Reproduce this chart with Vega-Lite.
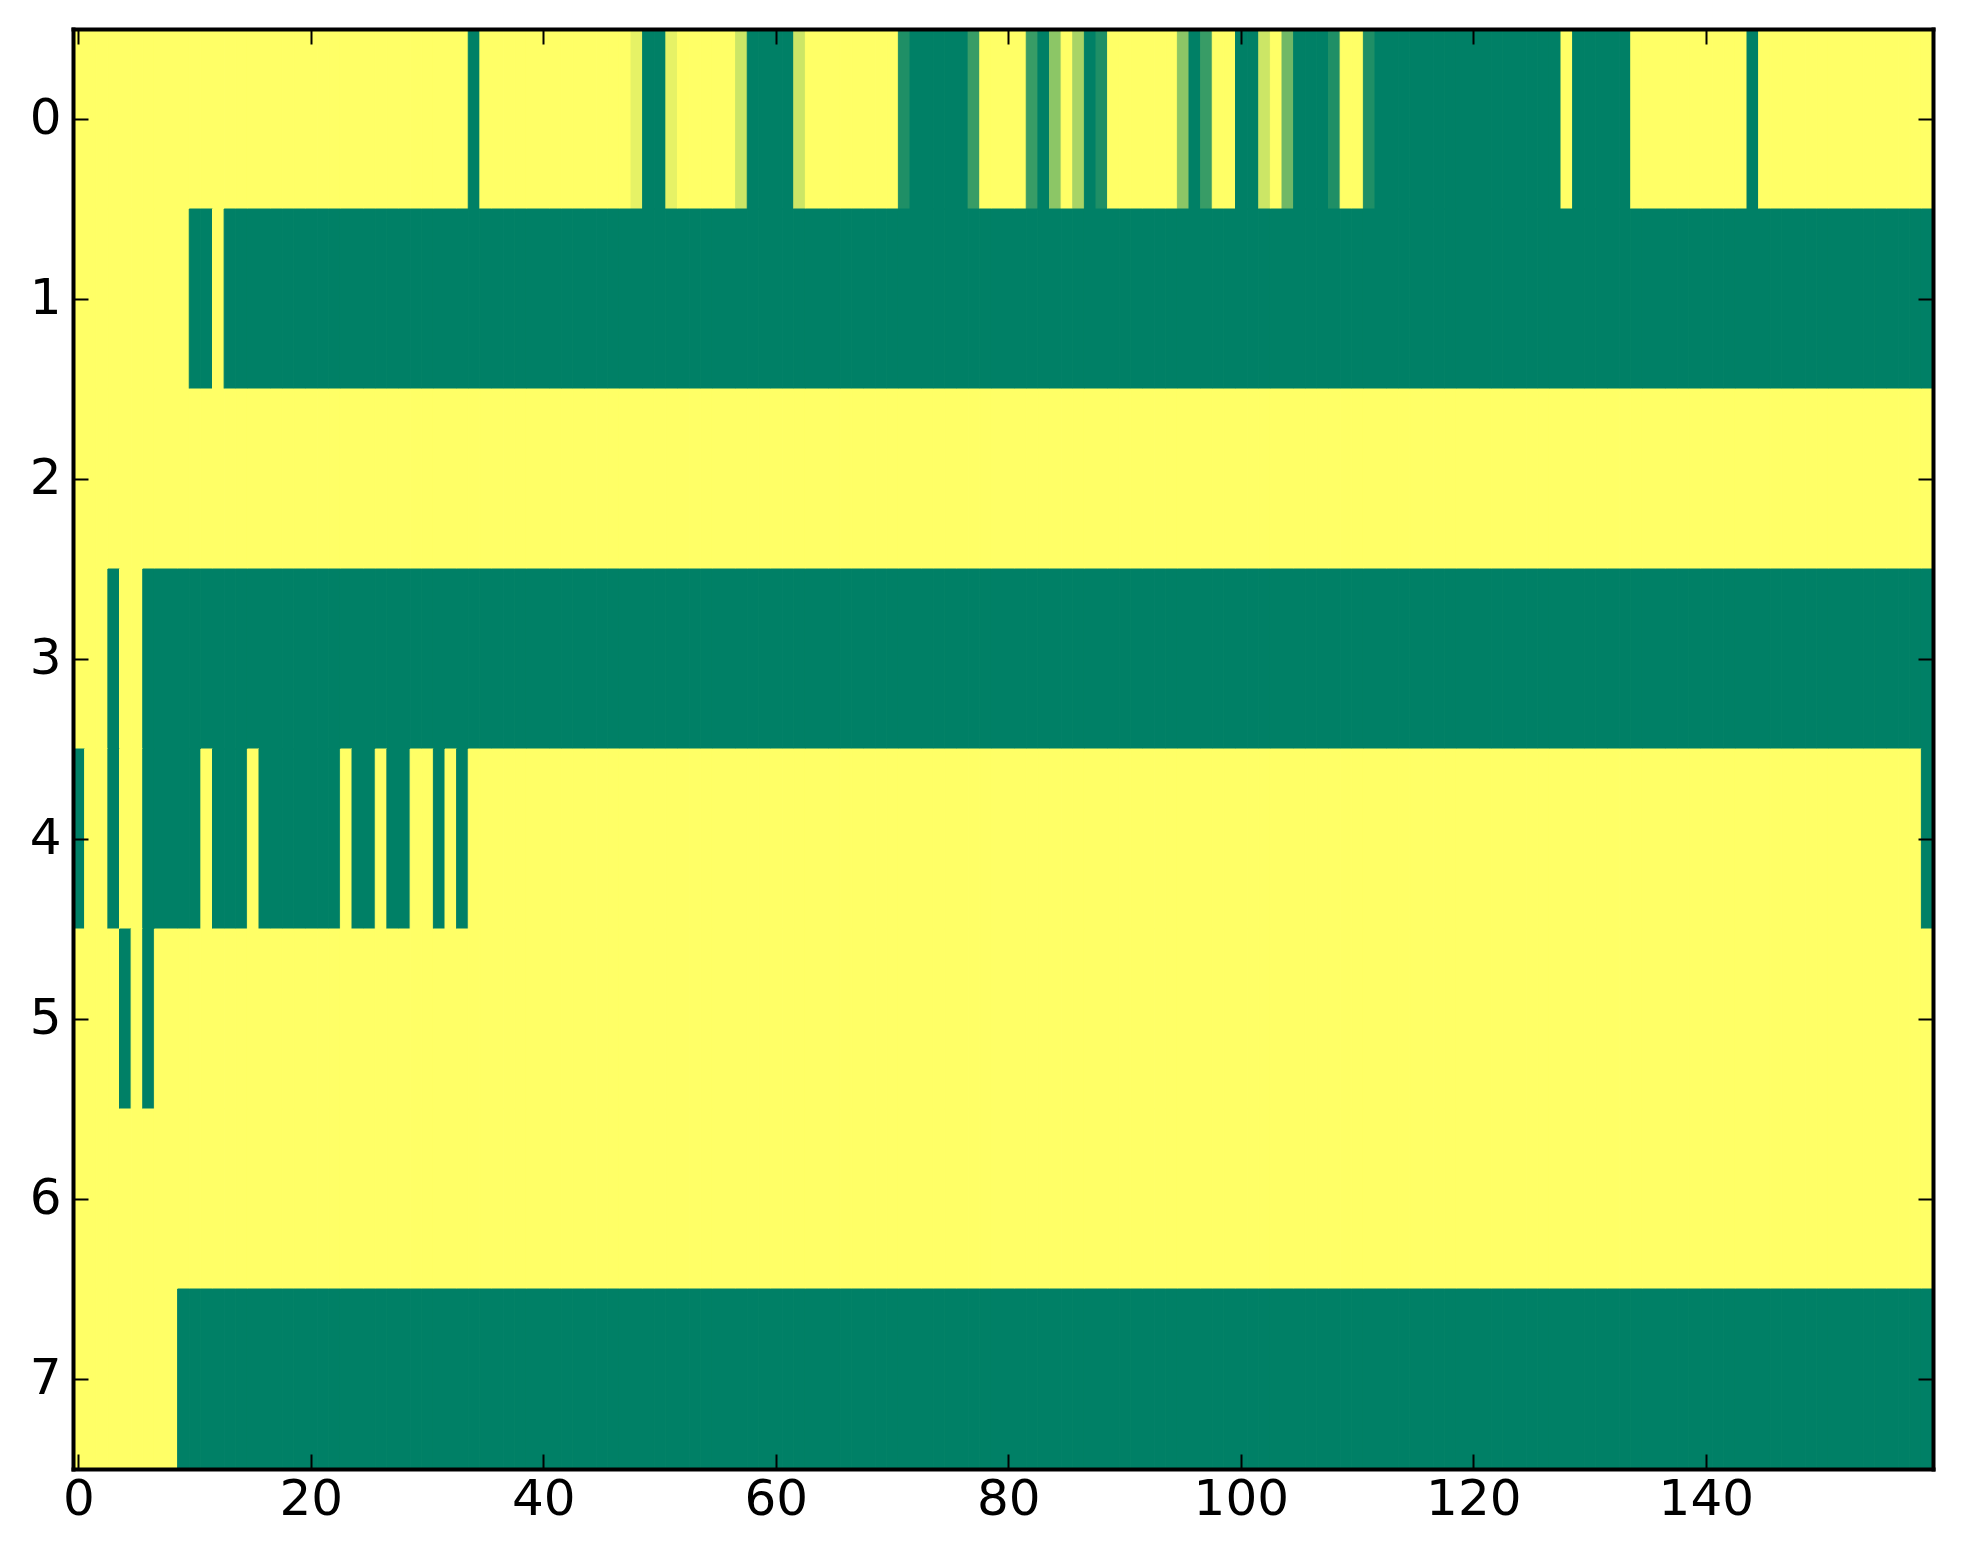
{
"$schema": "https://vega.github.io/schema/vega-lite/v6.json",
"autosize": "none",
"padding": {"left": 73, "top": 29, "right": 30, "bottom": 95},
"width": 1860,
"height": 1440,
"background": "white",
"config": {
  "view": {"stroke": null},
  "axis": {"domain": true, "domainColor": "black", "domainWidth": 4, "domainCap": "square", "grid": false, "labelFont": "DejaVu Sans", "labelFontSize": 50, "labelColor": "black", "tickColor": "black", "tickWidth": 2, "tickSize": -15, "title": null}
},
"data": {"values": [
{"r":0,"c":0,"v":1},{"r":0,"c":1,"v":1},{"r":0,"c":2,"v":1},{"r":0,"c":3,"v":1},{"r":0,"c":4,"v":1},{"r":0,"c":5,"v":1},{"r":0,"c":6,"v":1},{"r":0,"c":7,"v":1},{"r":0,"c":8,"v":1},{"r":0,"c":9,"v":1},
{"r":0,"c":10,"v":1},{"r":0,"c":11,"v":1},{"r":0,"c":12,"v":1},{"r":0,"c":13,"v":1},{"r":0,"c":14,"v":1},{"r":0,"c":15,"v":1},{"r":0,"c":16,"v":1},{"r":0,"c":17,"v":1},{"r":0,"c":18,"v":1},{"r":0,"c":19,"v":1},
{"r":0,"c":20,"v":1},{"r":0,"c":21,"v":1},{"r":0,"c":22,"v":1},{"r":0,"c":23,"v":1},{"r":0,"c":24,"v":1},{"r":0,"c":25,"v":1},{"r":0,"c":26,"v":1},{"r":0,"c":27,"v":1},{"r":0,"c":28,"v":1},{"r":0,"c":29,"v":1},
{"r":0,"c":30,"v":1},{"r":0,"c":31,"v":1},{"r":0,"c":32,"v":1},{"r":0,"c":33,"v":1},{"r":0,"c":34,"v":0},{"r":0,"c":35,"v":1},{"r":0,"c":36,"v":1},{"r":0,"c":37,"v":1},{"r":0,"c":38,"v":1},{"r":0,"c":39,"v":1},
{"r":0,"c":40,"v":1},{"r":0,"c":41,"v":1},{"r":0,"c":42,"v":1},{"r":0,"c":43,"v":1},{"r":0,"c":44,"v":1},{"r":0,"c":45,"v":1},{"r":0,"c":46,"v":1},{"r":0,"c":47,"v":1},{"r":0,"c":48,"v":0.9},{"r":0,"c":49,"v":0},
{"r":0,"c":50,"v":0},{"r":0,"c":51,"v":0.9},{"r":0,"c":52,"v":1},{"r":0,"c":53,"v":1},{"r":0,"c":54,"v":1},{"r":0,"c":55,"v":1},{"r":0,"c":56,"v":1},{"r":0,"c":57,"v":0.8},{"r":0,"c":58,"v":0},{"r":0,"c":59,"v":0},
{"r":0,"c":60,"v":0},{"r":0,"c":61,"v":0},{"r":0,"c":62,"v":0.8},{"r":0,"c":63,"v":1},{"r":0,"c":64,"v":1},{"r":0,"c":65,"v":1},{"r":0,"c":66,"v":1},{"r":0,"c":67,"v":1},{"r":0,"c":68,"v":1},{"r":0,"c":69,"v":1},
{"r":0,"c":70,"v":1},{"r":0,"c":71,"v":0.12},{"r":0,"c":72,"v":0},{"r":0,"c":73,"v":0},{"r":0,"c":74,"v":0},{"r":0,"c":75,"v":0},{"r":0,"c":76,"v":0},{"r":0,"c":77,"v":0.22},{"r":0,"c":78,"v":1},{"r":0,"c":79,"v":1},
{"r":0,"c":80,"v":1},{"r":0,"c":81,"v":1},{"r":0,"c":82,"v":0.22},{"r":0,"c":83,"v":0},{"r":0,"c":84,"v":0.55},{"r":0,"c":85,"v":1},{"r":0,"c":86,"v":0.66},{"r":0,"c":87,"v":0},{"r":0,"c":88,"v":0.12},{"r":0,"c":89,"v":1},
{"r":0,"c":90,"v":1},{"r":0,"c":91,"v":1},{"r":0,"c":92,"v":1},{"r":0,"c":93,"v":1},{"r":0,"c":94,"v":1},{"r":0,"c":95,"v":0.55},{"r":0,"c":96,"v":0},{"r":0,"c":97,"v":0.22},{"r":0,"c":98,"v":1},{"r":0,"c":99,"v":1},
{"r":0,"c":100,"v":0},{"r":0,"c":101,"v":0},{"r":0,"c":102,"v":0.8},{"r":0,"c":103,"v":1},{"r":0,"c":104,"v":0.44},{"r":0,"c":105,"v":0},{"r":0,"c":106,"v":0},{"r":0,"c":107,"v":0},{"r":0,"c":108,"v":0.12},{"r":0,"c":109,"v":1},
{"r":0,"c":110,"v":1},{"r":0,"c":111,"v":0.12},{"r":0,"c":112,"v":0},{"r":0,"c":113,"v":0},{"r":0,"c":114,"v":0},{"r":0,"c":115,"v":0},{"r":0,"c":116,"v":0},{"r":0,"c":117,"v":0},{"r":0,"c":118,"v":0},{"r":0,"c":119,"v":0},
{"r":0,"c":120,"v":0},{"r":0,"c":121,"v":0},{"r":0,"c":122,"v":0},{"r":0,"c":123,"v":0},{"r":0,"c":124,"v":0},{"r":0,"c":125,"v":0},{"r":0,"c":126,"v":0},{"r":0,"c":127,"v":0},{"r":0,"c":128,"v":1},{"r":0,"c":129,"v":0},
{"r":0,"c":130,"v":0},{"r":0,"c":131,"v":0},{"r":0,"c":132,"v":0},{"r":0,"c":133,"v":0},{"r":0,"c":134,"v":1},{"r":0,"c":135,"v":1},{"r":0,"c":136,"v":1},{"r":0,"c":137,"v":1},{"r":0,"c":138,"v":1},{"r":0,"c":139,"v":1},
{"r":0,"c":140,"v":1},{"r":0,"c":141,"v":1},{"r":0,"c":142,"v":1},{"r":0,"c":143,"v":1},{"r":0,"c":144,"v":0},{"r":0,"c":145,"v":1},{"r":0,"c":146,"v":1},{"r":0,"c":147,"v":1},{"r":0,"c":148,"v":1},{"r":0,"c":149,"v":1},
{"r":0,"c":150,"v":1},{"r":0,"c":151,"v":1},{"r":0,"c":152,"v":1},{"r":0,"c":153,"v":1},{"r":0,"c":154,"v":1},{"r":0,"c":155,"v":1},{"r":0,"c":156,"v":1},{"r":0,"c":157,"v":1},{"r":0,"c":158,"v":1},{"r":0,"c":159,"v":1},

{"r":1,"c":0,"v":1},{"r":1,"c":1,"v":1},{"r":1,"c":2,"v":1},{"r":1,"c":3,"v":1},{"r":1,"c":4,"v":1},{"r":1,"c":5,"v":1},{"r":1,"c":6,"v":1},{"r":1,"c":7,"v":1},{"r":1,"c":8,"v":1},{"r":1,"c":9,"v":1},
{"r":1,"c":10,"v":0},{"r":1,"c":11,"v":0},{"r":1,"c":12,"v":1},{"r":1,"c":13,"v":0},{"r":1,"c":14,"v":0},{"r":1,"c":15,"v":0},{"r":1,"c":16,"v":0},{"r":1,"c":17,"v":0},{"r":1,"c":18,"v":0},{"r":1,"c":19,"v":0},
{"r":1,"c":20,"v":0},{"r":1,"c":21,"v":0},{"r":1,"c":22,"v":0},{"r":1,"c":23,"v":0},{"r":1,"c":24,"v":0},{"r":1,"c":25,"v":0},{"r":1,"c":26,"v":0},{"r":1,"c":27,"v":0},{"r":1,"c":28,"v":0},{"r":1,"c":29,"v":0},
{"r":1,"c":30,"v":0},{"r":1,"c":31,"v":0},{"r":1,"c":32,"v":0},{"r":1,"c":33,"v":0},{"r":1,"c":34,"v":0},{"r":1,"c":35,"v":0},{"r":1,"c":36,"v":0},{"r":1,"c":37,"v":0},{"r":1,"c":38,"v":0},{"r":1,"c":39,"v":0},
{"r":1,"c":40,"v":0},{"r":1,"c":41,"v":0},{"r":1,"c":42,"v":0},{"r":1,"c":43,"v":0},{"r":1,"c":44,"v":0},{"r":1,"c":45,"v":0},{"r":1,"c":46,"v":0},{"r":1,"c":47,"v":0},{"r":1,"c":48,"v":0},{"r":1,"c":49,"v":0},
{"r":1,"c":50,"v":0},{"r":1,"c":51,"v":0},{"r":1,"c":52,"v":0},{"r":1,"c":53,"v":0},{"r":1,"c":54,"v":0},{"r":1,"c":55,"v":0},{"r":1,"c":56,"v":0},{"r":1,"c":57,"v":0},{"r":1,"c":58,"v":0},{"r":1,"c":59,"v":0},
{"r":1,"c":60,"v":0},{"r":1,"c":61,"v":0},{"r":1,"c":62,"v":0},{"r":1,"c":63,"v":0},{"r":1,"c":64,"v":0},{"r":1,"c":65,"v":0},{"r":1,"c":66,"v":0},{"r":1,"c":67,"v":0},{"r":1,"c":68,"v":0},{"r":1,"c":69,"v":0},
{"r":1,"c":70,"v":0},{"r":1,"c":71,"v":0},{"r":1,"c":72,"v":0},{"r":1,"c":73,"v":0},{"r":1,"c":74,"v":0},{"r":1,"c":75,"v":0},{"r":1,"c":76,"v":0},{"r":1,"c":77,"v":0},{"r":1,"c":78,"v":0},{"r":1,"c":79,"v":0},
{"r":1,"c":80,"v":0},{"r":1,"c":81,"v":0},{"r":1,"c":82,"v":0},{"r":1,"c":83,"v":0},{"r":1,"c":84,"v":0},{"r":1,"c":85,"v":0},{"r":1,"c":86,"v":0},{"r":1,"c":87,"v":0},{"r":1,"c":88,"v":0},{"r":1,"c":89,"v":0},
{"r":1,"c":90,"v":0},{"r":1,"c":91,"v":0},{"r":1,"c":92,"v":0},{"r":1,"c":93,"v":0},{"r":1,"c":94,"v":0},{"r":1,"c":95,"v":0},{"r":1,"c":96,"v":0},{"r":1,"c":97,"v":0},{"r":1,"c":98,"v":0},{"r":1,"c":99,"v":0},
{"r":1,"c":100,"v":0},{"r":1,"c":101,"v":0},{"r":1,"c":102,"v":0},{"r":1,"c":103,"v":0},{"r":1,"c":104,"v":0},{"r":1,"c":105,"v":0},{"r":1,"c":106,"v":0},{"r":1,"c":107,"v":0},{"r":1,"c":108,"v":0},{"r":1,"c":109,"v":0},
{"r":1,"c":110,"v":0},{"r":1,"c":111,"v":0},{"r":1,"c":112,"v":0},{"r":1,"c":113,"v":0},{"r":1,"c":114,"v":0},{"r":1,"c":115,"v":0},{"r":1,"c":116,"v":0},{"r":1,"c":117,"v":0},{"r":1,"c":118,"v":0},{"r":1,"c":119,"v":0},
{"r":1,"c":120,"v":0},{"r":1,"c":121,"v":0},{"r":1,"c":122,"v":0},{"r":1,"c":123,"v":0},{"r":1,"c":124,"v":0},{"r":1,"c":125,"v":0},{"r":1,"c":126,"v":0},{"r":1,"c":127,"v":0},{"r":1,"c":128,"v":0},{"r":1,"c":129,"v":0},
{"r":1,"c":130,"v":0},{"r":1,"c":131,"v":0},{"r":1,"c":132,"v":0},{"r":1,"c":133,"v":0},{"r":1,"c":134,"v":0},{"r":1,"c":135,"v":0},{"r":1,"c":136,"v":0},{"r":1,"c":137,"v":0},{"r":1,"c":138,"v":0},{"r":1,"c":139,"v":0},
{"r":1,"c":140,"v":0},{"r":1,"c":141,"v":0},{"r":1,"c":142,"v":0},{"r":1,"c":143,"v":0},{"r":1,"c":144,"v":0},{"r":1,"c":145,"v":0},{"r":1,"c":146,"v":0},{"r":1,"c":147,"v":0},{"r":1,"c":148,"v":0},{"r":1,"c":149,"v":0},
{"r":1,"c":150,"v":0},{"r":1,"c":151,"v":0},{"r":1,"c":152,"v":0},{"r":1,"c":153,"v":0},{"r":1,"c":154,"v":0},{"r":1,"c":155,"v":0},{"r":1,"c":156,"v":0},{"r":1,"c":157,"v":0},{"r":1,"c":158,"v":0},{"r":1,"c":159,"v":0},

{"r":2,"c":0,"v":1},{"r":2,"c":1,"v":1},{"r":2,"c":2,"v":1},{"r":2,"c":3,"v":1},{"r":2,"c":4,"v":1},{"r":2,"c":5,"v":1},{"r":2,"c":6,"v":1},{"r":2,"c":7,"v":1},{"r":2,"c":8,"v":1},{"r":2,"c":9,"v":1},
{"r":2,"c":10,"v":1},{"r":2,"c":11,"v":1},{"r":2,"c":12,"v":1},{"r":2,"c":13,"v":1},{"r":2,"c":14,"v":1},{"r":2,"c":15,"v":1},{"r":2,"c":16,"v":1},{"r":2,"c":17,"v":1},{"r":2,"c":18,"v":1},{"r":2,"c":19,"v":1},
{"r":2,"c":20,"v":1},{"r":2,"c":21,"v":1},{"r":2,"c":22,"v":1},{"r":2,"c":23,"v":1},{"r":2,"c":24,"v":1},{"r":2,"c":25,"v":1},{"r":2,"c":26,"v":1},{"r":2,"c":27,"v":1},{"r":2,"c":28,"v":1},{"r":2,"c":29,"v":1},
{"r":2,"c":30,"v":1},{"r":2,"c":31,"v":1},{"r":2,"c":32,"v":1},{"r":2,"c":33,"v":1},{"r":2,"c":34,"v":1},{"r":2,"c":35,"v":1},{"r":2,"c":36,"v":1},{"r":2,"c":37,"v":1},{"r":2,"c":38,"v":1},{"r":2,"c":39,"v":1},
{"r":2,"c":40,"v":1},{"r":2,"c":41,"v":1},{"r":2,"c":42,"v":1},{"r":2,"c":43,"v":1},{"r":2,"c":44,"v":1},{"r":2,"c":45,"v":1},{"r":2,"c":46,"v":1},{"r":2,"c":47,"v":1},{"r":2,"c":48,"v":1},{"r":2,"c":49,"v":1},
{"r":2,"c":50,"v":1},{"r":2,"c":51,"v":1},{"r":2,"c":52,"v":1},{"r":2,"c":53,"v":1},{"r":2,"c":54,"v":1},{"r":2,"c":55,"v":1},{"r":2,"c":56,"v":1},{"r":2,"c":57,"v":1},{"r":2,"c":58,"v":1},{"r":2,"c":59,"v":1},
{"r":2,"c":60,"v":1},{"r":2,"c":61,"v":1},{"r":2,"c":62,"v":1},{"r":2,"c":63,"v":1},{"r":2,"c":64,"v":1},{"r":2,"c":65,"v":1},{"r":2,"c":66,"v":1},{"r":2,"c":67,"v":1},{"r":2,"c":68,"v":1},{"r":2,"c":69,"v":1},
{"r":2,"c":70,"v":1},{"r":2,"c":71,"v":1},{"r":2,"c":72,"v":1},{"r":2,"c":73,"v":1},{"r":2,"c":74,"v":1},{"r":2,"c":75,"v":1},{"r":2,"c":76,"v":1},{"r":2,"c":77,"v":1},{"r":2,"c":78,"v":1},{"r":2,"c":79,"v":1},
{"r":2,"c":80,"v":1},{"r":2,"c":81,"v":1},{"r":2,"c":82,"v":1},{"r":2,"c":83,"v":1},{"r":2,"c":84,"v":1},{"r":2,"c":85,"v":1},{"r":2,"c":86,"v":1},{"r":2,"c":87,"v":1},{"r":2,"c":88,"v":1},{"r":2,"c":89,"v":1},
{"r":2,"c":90,"v":1},{"r":2,"c":91,"v":1},{"r":2,"c":92,"v":1},{"r":2,"c":93,"v":1},{"r":2,"c":94,"v":1},{"r":2,"c":95,"v":1},{"r":2,"c":96,"v":1},{"r":2,"c":97,"v":1},{"r":2,"c":98,"v":1},{"r":2,"c":99,"v":1},
{"r":2,"c":100,"v":1},{"r":2,"c":101,"v":1},{"r":2,"c":102,"v":1},{"r":2,"c":103,"v":1},{"r":2,"c":104,"v":1},{"r":2,"c":105,"v":1},{"r":2,"c":106,"v":1},{"r":2,"c":107,"v":1},{"r":2,"c":108,"v":1},{"r":2,"c":109,"v":1},
{"r":2,"c":110,"v":1},{"r":2,"c":111,"v":1},{"r":2,"c":112,"v":1},{"r":2,"c":113,"v":1},{"r":2,"c":114,"v":1},{"r":2,"c":115,"v":1},{"r":2,"c":116,"v":1},{"r":2,"c":117,"v":1},{"r":2,"c":118,"v":1},{"r":2,"c":119,"v":1},
{"r":2,"c":120,"v":1},{"r":2,"c":121,"v":1},{"r":2,"c":122,"v":1},{"r":2,"c":123,"v":1},{"r":2,"c":124,"v":1},{"r":2,"c":125,"v":1},{"r":2,"c":126,"v":1},{"r":2,"c":127,"v":1},{"r":2,"c":128,"v":1},{"r":2,"c":129,"v":1},
{"r":2,"c":130,"v":1},{"r":2,"c":131,"v":1},{"r":2,"c":132,"v":1},{"r":2,"c":133,"v":1},{"r":2,"c":134,"v":1},{"r":2,"c":135,"v":1},{"r":2,"c":136,"v":1},{"r":2,"c":137,"v":1},{"r":2,"c":138,"v":1},{"r":2,"c":139,"v":1},
{"r":2,"c":140,"v":1},{"r":2,"c":141,"v":1},{"r":2,"c":142,"v":1},{"r":2,"c":143,"v":1},{"r":2,"c":144,"v":1},{"r":2,"c":145,"v":1},{"r":2,"c":146,"v":1},{"r":2,"c":147,"v":1},{"r":2,"c":148,"v":1},{"r":2,"c":149,"v":1},
{"r":2,"c":150,"v":1},{"r":2,"c":151,"v":1},{"r":2,"c":152,"v":1},{"r":2,"c":153,"v":1},{"r":2,"c":154,"v":1},{"r":2,"c":155,"v":1},{"r":2,"c":156,"v":1},{"r":2,"c":157,"v":1},{"r":2,"c":158,"v":1},{"r":2,"c":159,"v":1},

{"r":3,"c":0,"v":1},{"r":3,"c":1,"v":1},{"r":3,"c":2,"v":1},{"r":3,"c":3,"v":0},{"r":3,"c":4,"v":1},{"r":3,"c":5,"v":1},{"r":3,"c":6,"v":0},{"r":3,"c":7,"v":0},{"r":3,"c":8,"v":0},{"r":3,"c":9,"v":0},
{"r":3,"c":10,"v":0},{"r":3,"c":11,"v":0},{"r":3,"c":12,"v":0},{"r":3,"c":13,"v":0},{"r":3,"c":14,"v":0},{"r":3,"c":15,"v":0},{"r":3,"c":16,"v":0},{"r":3,"c":17,"v":0},{"r":3,"c":18,"v":0},{"r":3,"c":19,"v":0},
{"r":3,"c":20,"v":0},{"r":3,"c":21,"v":0},{"r":3,"c":22,"v":0},{"r":3,"c":23,"v":0},{"r":3,"c":24,"v":0},{"r":3,"c":25,"v":0},{"r":3,"c":26,"v":0},{"r":3,"c":27,"v":0},{"r":3,"c":28,"v":0},{"r":3,"c":29,"v":0},
{"r":3,"c":30,"v":0},{"r":3,"c":31,"v":0},{"r":3,"c":32,"v":0},{"r":3,"c":33,"v":0},{"r":3,"c":34,"v":0},{"r":3,"c":35,"v":0},{"r":3,"c":36,"v":0},{"r":3,"c":37,"v":0},{"r":3,"c":38,"v":0},{"r":3,"c":39,"v":0},
{"r":3,"c":40,"v":0},{"r":3,"c":41,"v":0},{"r":3,"c":42,"v":0},{"r":3,"c":43,"v":0},{"r":3,"c":44,"v":0},{"r":3,"c":45,"v":0},{"r":3,"c":46,"v":0},{"r":3,"c":47,"v":0},{"r":3,"c":48,"v":0},{"r":3,"c":49,"v":0},
{"r":3,"c":50,"v":0},{"r":3,"c":51,"v":0},{"r":3,"c":52,"v":0},{"r":3,"c":53,"v":0},{"r":3,"c":54,"v":0},{"r":3,"c":55,"v":0},{"r":3,"c":56,"v":0},{"r":3,"c":57,"v":0},{"r":3,"c":58,"v":0},{"r":3,"c":59,"v":0},
{"r":3,"c":60,"v":0},{"r":3,"c":61,"v":0},{"r":3,"c":62,"v":0},{"r":3,"c":63,"v":0},{"r":3,"c":64,"v":0},{"r":3,"c":65,"v":0},{"r":3,"c":66,"v":0},{"r":3,"c":67,"v":0},{"r":3,"c":68,"v":0},{"r":3,"c":69,"v":0},
{"r":3,"c":70,"v":0},{"r":3,"c":71,"v":0},{"r":3,"c":72,"v":0},{"r":3,"c":73,"v":0},{"r":3,"c":74,"v":0},{"r":3,"c":75,"v":0},{"r":3,"c":76,"v":0},{"r":3,"c":77,"v":0},{"r":3,"c":78,"v":0},{"r":3,"c":79,"v":0},
{"r":3,"c":80,"v":0},{"r":3,"c":81,"v":0},{"r":3,"c":82,"v":0},{"r":3,"c":83,"v":0},{"r":3,"c":84,"v":0},{"r":3,"c":85,"v":0},{"r":3,"c":86,"v":0},{"r":3,"c":87,"v":0},{"r":3,"c":88,"v":0},{"r":3,"c":89,"v":0},
{"r":3,"c":90,"v":0},{"r":3,"c":91,"v":0},{"r":3,"c":92,"v":0},{"r":3,"c":93,"v":0},{"r":3,"c":94,"v":0},{"r":3,"c":95,"v":0},{"r":3,"c":96,"v":0},{"r":3,"c":97,"v":0},{"r":3,"c":98,"v":0},{"r":3,"c":99,"v":0},
{"r":3,"c":100,"v":0},{"r":3,"c":101,"v":0},{"r":3,"c":102,"v":0},{"r":3,"c":103,"v":0},{"r":3,"c":104,"v":0},{"r":3,"c":105,"v":0},{"r":3,"c":106,"v":0},{"r":3,"c":107,"v":0},{"r":3,"c":108,"v":0},{"r":3,"c":109,"v":0},
{"r":3,"c":110,"v":0},{"r":3,"c":111,"v":0},{"r":3,"c":112,"v":0},{"r":3,"c":113,"v":0},{"r":3,"c":114,"v":0},{"r":3,"c":115,"v":0},{"r":3,"c":116,"v":0},{"r":3,"c":117,"v":0},{"r":3,"c":118,"v":0},{"r":3,"c":119,"v":0},
{"r":3,"c":120,"v":0},{"r":3,"c":121,"v":0},{"r":3,"c":122,"v":0},{"r":3,"c":123,"v":0},{"r":3,"c":124,"v":0},{"r":3,"c":125,"v":0},{"r":3,"c":126,"v":0},{"r":3,"c":127,"v":0},{"r":3,"c":128,"v":0},{"r":3,"c":129,"v":0},
{"r":3,"c":130,"v":0},{"r":3,"c":131,"v":0},{"r":3,"c":132,"v":0},{"r":3,"c":133,"v":0},{"r":3,"c":134,"v":0},{"r":3,"c":135,"v":0},{"r":3,"c":136,"v":0},{"r":3,"c":137,"v":0},{"r":3,"c":138,"v":0},{"r":3,"c":139,"v":0},
{"r":3,"c":140,"v":0},{"r":3,"c":141,"v":0},{"r":3,"c":142,"v":0},{"r":3,"c":143,"v":0},{"r":3,"c":144,"v":0},{"r":3,"c":145,"v":0},{"r":3,"c":146,"v":0},{"r":3,"c":147,"v":0},{"r":3,"c":148,"v":0},{"r":3,"c":149,"v":0},
{"r":3,"c":150,"v":0},{"r":3,"c":151,"v":0},{"r":3,"c":152,"v":0},{"r":3,"c":153,"v":0},{"r":3,"c":154,"v":0},{"r":3,"c":155,"v":0},{"r":3,"c":156,"v":0},{"r":3,"c":157,"v":0},{"r":3,"c":158,"v":0},{"r":3,"c":159,"v":0},

{"r":4,"c":0,"v":0},{"r":4,"c":1,"v":1},{"r":4,"c":2,"v":1},{"r":4,"c":3,"v":0},{"r":4,"c":4,"v":1},{"r":4,"c":5,"v":1},{"r":4,"c":6,"v":0},{"r":4,"c":7,"v":0},{"r":4,"c":8,"v":0},{"r":4,"c":9,"v":0},
{"r":4,"c":10,"v":0},{"r":4,"c":11,"v":1},{"r":4,"c":12,"v":0},{"r":4,"c":13,"v":0},{"r":4,"c":14,"v":0},{"r":4,"c":15,"v":1},{"r":4,"c":16,"v":0},{"r":4,"c":17,"v":0},{"r":4,"c":18,"v":0},{"r":4,"c":19,"v":0},
{"r":4,"c":20,"v":0},{"r":4,"c":21,"v":0},{"r":4,"c":22,"v":0},{"r":4,"c":23,"v":1},{"r":4,"c":24,"v":0},{"r":4,"c":25,"v":0},{"r":4,"c":26,"v":1},{"r":4,"c":27,"v":0},{"r":4,"c":28,"v":0},{"r":4,"c":29,"v":1},
{"r":4,"c":30,"v":1},{"r":4,"c":31,"v":0},{"r":4,"c":32,"v":1},{"r":4,"c":33,"v":0},{"r":4,"c":34,"v":1},{"r":4,"c":35,"v":1},{"r":4,"c":36,"v":1},{"r":4,"c":37,"v":1},{"r":4,"c":38,"v":1},{"r":4,"c":39,"v":1},
{"r":4,"c":40,"v":1},{"r":4,"c":41,"v":1},{"r":4,"c":42,"v":1},{"r":4,"c":43,"v":1},{"r":4,"c":44,"v":1},{"r":4,"c":45,"v":1},{"r":4,"c":46,"v":1},{"r":4,"c":47,"v":1},{"r":4,"c":48,"v":1},{"r":4,"c":49,"v":1},
{"r":4,"c":50,"v":1},{"r":4,"c":51,"v":1},{"r":4,"c":52,"v":1},{"r":4,"c":53,"v":1},{"r":4,"c":54,"v":1},{"r":4,"c":55,"v":1},{"r":4,"c":56,"v":1},{"r":4,"c":57,"v":1},{"r":4,"c":58,"v":1},{"r":4,"c":59,"v":1},
{"r":4,"c":60,"v":1},{"r":4,"c":61,"v":1},{"r":4,"c":62,"v":1},{"r":4,"c":63,"v":1},{"r":4,"c":64,"v":1},{"r":4,"c":65,"v":1},{"r":4,"c":66,"v":1},{"r":4,"c":67,"v":1},{"r":4,"c":68,"v":1},{"r":4,"c":69,"v":1},
{"r":4,"c":70,"v":1},{"r":4,"c":71,"v":1},{"r":4,"c":72,"v":1},{"r":4,"c":73,"v":1},{"r":4,"c":74,"v":1},{"r":4,"c":75,"v":1},{"r":4,"c":76,"v":1},{"r":4,"c":77,"v":1},{"r":4,"c":78,"v":1},{"r":4,"c":79,"v":1},
{"r":4,"c":80,"v":1},{"r":4,"c":81,"v":1},{"r":4,"c":82,"v":1},{"r":4,"c":83,"v":1},{"r":4,"c":84,"v":1},{"r":4,"c":85,"v":1},{"r":4,"c":86,"v":1},{"r":4,"c":87,"v":1},{"r":4,"c":88,"v":1},{"r":4,"c":89,"v":1},
{"r":4,"c":90,"v":1},{"r":4,"c":91,"v":1},{"r":4,"c":92,"v":1},{"r":4,"c":93,"v":1},{"r":4,"c":94,"v":1},{"r":4,"c":95,"v":1},{"r":4,"c":96,"v":1},{"r":4,"c":97,"v":1},{"r":4,"c":98,"v":1},{"r":4,"c":99,"v":1},
{"r":4,"c":100,"v":1},{"r":4,"c":101,"v":1},{"r":4,"c":102,"v":1},{"r":4,"c":103,"v":1},{"r":4,"c":104,"v":1},{"r":4,"c":105,"v":1},{"r":4,"c":106,"v":1},{"r":4,"c":107,"v":1},{"r":4,"c":108,"v":1},{"r":4,"c":109,"v":1},
{"r":4,"c":110,"v":1},{"r":4,"c":111,"v":1},{"r":4,"c":112,"v":1},{"r":4,"c":113,"v":1},{"r":4,"c":114,"v":1},{"r":4,"c":115,"v":1},{"r":4,"c":116,"v":1},{"r":4,"c":117,"v":1},{"r":4,"c":118,"v":1},{"r":4,"c":119,"v":1},
{"r":4,"c":120,"v":1},{"r":4,"c":121,"v":1},{"r":4,"c":122,"v":1},{"r":4,"c":123,"v":1},{"r":4,"c":124,"v":1},{"r":4,"c":125,"v":1},{"r":4,"c":126,"v":1},{"r":4,"c":127,"v":1},{"r":4,"c":128,"v":1},{"r":4,"c":129,"v":1},
{"r":4,"c":130,"v":1},{"r":4,"c":131,"v":1},{"r":4,"c":132,"v":1},{"r":4,"c":133,"v":1},{"r":4,"c":134,"v":1},{"r":4,"c":135,"v":1},{"r":4,"c":136,"v":1},{"r":4,"c":137,"v":1},{"r":4,"c":138,"v":1},{"r":4,"c":139,"v":1},
{"r":4,"c":140,"v":1},{"r":4,"c":141,"v":1},{"r":4,"c":142,"v":1},{"r":4,"c":143,"v":1},{"r":4,"c":144,"v":1},{"r":4,"c":145,"v":1},{"r":4,"c":146,"v":1},{"r":4,"c":147,"v":1},{"r":4,"c":148,"v":1},{"r":4,"c":149,"v":1},
{"r":4,"c":150,"v":1},{"r":4,"c":151,"v":1},{"r":4,"c":152,"v":1},{"r":4,"c":153,"v":1},{"r":4,"c":154,"v":1},{"r":4,"c":155,"v":1},{"r":4,"c":156,"v":1},{"r":4,"c":157,"v":1},{"r":4,"c":158,"v":1},{"r":4,"c":159,"v":0},

{"r":5,"c":0,"v":1},{"r":5,"c":1,"v":1},{"r":5,"c":2,"v":1},{"r":5,"c":3,"v":1},{"r":5,"c":4,"v":0},{"r":5,"c":5,"v":1},{"r":5,"c":6,"v":0},{"r":5,"c":7,"v":1},{"r":5,"c":8,"v":1},{"r":5,"c":9,"v":1},
{"r":5,"c":10,"v":1},{"r":5,"c":11,"v":1},{"r":5,"c":12,"v":1},{"r":5,"c":13,"v":1},{"r":5,"c":14,"v":1},{"r":5,"c":15,"v":1},{"r":5,"c":16,"v":1},{"r":5,"c":17,"v":1},{"r":5,"c":18,"v":1},{"r":5,"c":19,"v":1},
{"r":5,"c":20,"v":1},{"r":5,"c":21,"v":1},{"r":5,"c":22,"v":1},{"r":5,"c":23,"v":1},{"r":5,"c":24,"v":1},{"r":5,"c":25,"v":1},{"r":5,"c":26,"v":1},{"r":5,"c":27,"v":1},{"r":5,"c":28,"v":1},{"r":5,"c":29,"v":1},
{"r":5,"c":30,"v":1},{"r":5,"c":31,"v":1},{"r":5,"c":32,"v":1},{"r":5,"c":33,"v":1},{"r":5,"c":34,"v":1},{"r":5,"c":35,"v":1},{"r":5,"c":36,"v":1},{"r":5,"c":37,"v":1},{"r":5,"c":38,"v":1},{"r":5,"c":39,"v":1},
{"r":5,"c":40,"v":1},{"r":5,"c":41,"v":1},{"r":5,"c":42,"v":1},{"r":5,"c":43,"v":1},{"r":5,"c":44,"v":1},{"r":5,"c":45,"v":1},{"r":5,"c":46,"v":1},{"r":5,"c":47,"v":1},{"r":5,"c":48,"v":1},{"r":5,"c":49,"v":1},
{"r":5,"c":50,"v":1},{"r":5,"c":51,"v":1},{"r":5,"c":52,"v":1},{"r":5,"c":53,"v":1},{"r":5,"c":54,"v":1},{"r":5,"c":55,"v":1},{"r":5,"c":56,"v":1},{"r":5,"c":57,"v":1},{"r":5,"c":58,"v":1},{"r":5,"c":59,"v":1},
{"r":5,"c":60,"v":1},{"r":5,"c":61,"v":1},{"r":5,"c":62,"v":1},{"r":5,"c":63,"v":1},{"r":5,"c":64,"v":1},{"r":5,"c":65,"v":1},{"r":5,"c":66,"v":1},{"r":5,"c":67,"v":1},{"r":5,"c":68,"v":1},{"r":5,"c":69,"v":1},
{"r":5,"c":70,"v":1},{"r":5,"c":71,"v":1},{"r":5,"c":72,"v":1},{"r":5,"c":73,"v":1},{"r":5,"c":74,"v":1},{"r":5,"c":75,"v":1},{"r":5,"c":76,"v":1},{"r":5,"c":77,"v":1},{"r":5,"c":78,"v":1},{"r":5,"c":79,"v":1},
{"r":5,"c":80,"v":1},{"r":5,"c":81,"v":1},{"r":5,"c":82,"v":1},{"r":5,"c":83,"v":1},{"r":5,"c":84,"v":1},{"r":5,"c":85,"v":1},{"r":5,"c":86,"v":1},{"r":5,"c":87,"v":1},{"r":5,"c":88,"v":1},{"r":5,"c":89,"v":1},
{"r":5,"c":90,"v":1},{"r":5,"c":91,"v":1},{"r":5,"c":92,"v":1},{"r":5,"c":93,"v":1},{"r":5,"c":94,"v":1},{"r":5,"c":95,"v":1},{"r":5,"c":96,"v":1},{"r":5,"c":97,"v":1},{"r":5,"c":98,"v":1},{"r":5,"c":99,"v":1},
{"r":5,"c":100,"v":1},{"r":5,"c":101,"v":1},{"r":5,"c":102,"v":1},{"r":5,"c":103,"v":1},{"r":5,"c":104,"v":1},{"r":5,"c":105,"v":1},{"r":5,"c":106,"v":1},{"r":5,"c":107,"v":1},{"r":5,"c":108,"v":1},{"r":5,"c":109,"v":1},
{"r":5,"c":110,"v":1},{"r":5,"c":111,"v":1},{"r":5,"c":112,"v":1},{"r":5,"c":113,"v":1},{"r":5,"c":114,"v":1},{"r":5,"c":115,"v":1},{"r":5,"c":116,"v":1},{"r":5,"c":117,"v":1},{"r":5,"c":118,"v":1},{"r":5,"c":119,"v":1},
{"r":5,"c":120,"v":1},{"r":5,"c":121,"v":1},{"r":5,"c":122,"v":1},{"r":5,"c":123,"v":1},{"r":5,"c":124,"v":1},{"r":5,"c":125,"v":1},{"r":5,"c":126,"v":1},{"r":5,"c":127,"v":1},{"r":5,"c":128,"v":1},{"r":5,"c":129,"v":1},
{"r":5,"c":130,"v":1},{"r":5,"c":131,"v":1},{"r":5,"c":132,"v":1},{"r":5,"c":133,"v":1},{"r":5,"c":134,"v":1},{"r":5,"c":135,"v":1},{"r":5,"c":136,"v":1},{"r":5,"c":137,"v":1},{"r":5,"c":138,"v":1},{"r":5,"c":139,"v":1},
{"r":5,"c":140,"v":1},{"r":5,"c":141,"v":1},{"r":5,"c":142,"v":1},{"r":5,"c":143,"v":1},{"r":5,"c":144,"v":1},{"r":5,"c":145,"v":1},{"r":5,"c":146,"v":1},{"r":5,"c":147,"v":1},{"r":5,"c":148,"v":1},{"r":5,"c":149,"v":1},
{"r":5,"c":150,"v":1},{"r":5,"c":151,"v":1},{"r":5,"c":152,"v":1},{"r":5,"c":153,"v":1},{"r":5,"c":154,"v":1},{"r":5,"c":155,"v":1},{"r":5,"c":156,"v":1},{"r":5,"c":157,"v":1},{"r":5,"c":158,"v":1},{"r":5,"c":159,"v":1},

{"r":6,"c":0,"v":1},{"r":6,"c":1,"v":1},{"r":6,"c":2,"v":1},{"r":6,"c":3,"v":1},{"r":6,"c":4,"v":1},{"r":6,"c":5,"v":1},{"r":6,"c":6,"v":1},{"r":6,"c":7,"v":1},{"r":6,"c":8,"v":1},{"r":6,"c":9,"v":1},
{"r":6,"c":10,"v":1},{"r":6,"c":11,"v":1},{"r":6,"c":12,"v":1},{"r":6,"c":13,"v":1},{"r":6,"c":14,"v":1},{"r":6,"c":15,"v":1},{"r":6,"c":16,"v":1},{"r":6,"c":17,"v":1},{"r":6,"c":18,"v":1},{"r":6,"c":19,"v":1},
{"r":6,"c":20,"v":1},{"r":6,"c":21,"v":1},{"r":6,"c":22,"v":1},{"r":6,"c":23,"v":1},{"r":6,"c":24,"v":1},{"r":6,"c":25,"v":1},{"r":6,"c":26,"v":1},{"r":6,"c":27,"v":1},{"r":6,"c":28,"v":1},{"r":6,"c":29,"v":1},
{"r":6,"c":30,"v":1},{"r":6,"c":31,"v":1},{"r":6,"c":32,"v":1},{"r":6,"c":33,"v":1},{"r":6,"c":34,"v":1},{"r":6,"c":35,"v":1},{"r":6,"c":36,"v":1},{"r":6,"c":37,"v":1},{"r":6,"c":38,"v":1},{"r":6,"c":39,"v":1},
{"r":6,"c":40,"v":1},{"r":6,"c":41,"v":1},{"r":6,"c":42,"v":1},{"r":6,"c":43,"v":1},{"r":6,"c":44,"v":1},{"r":6,"c":45,"v":1},{"r":6,"c":46,"v":1},{"r":6,"c":47,"v":1},{"r":6,"c":48,"v":1},{"r":6,"c":49,"v":1},
{"r":6,"c":50,"v":1},{"r":6,"c":51,"v":1},{"r":6,"c":52,"v":1},{"r":6,"c":53,"v":1},{"r":6,"c":54,"v":1},{"r":6,"c":55,"v":1},{"r":6,"c":56,"v":1},{"r":6,"c":57,"v":1},{"r":6,"c":58,"v":1},{"r":6,"c":59,"v":1},
{"r":6,"c":60,"v":1},{"r":6,"c":61,"v":1},{"r":6,"c":62,"v":1},{"r":6,"c":63,"v":1},{"r":6,"c":64,"v":1},{"r":6,"c":65,"v":1},{"r":6,"c":66,"v":1},{"r":6,"c":67,"v":1},{"r":6,"c":68,"v":1},{"r":6,"c":69,"v":1},
{"r":6,"c":70,"v":1},{"r":6,"c":71,"v":1},{"r":6,"c":72,"v":1},{"r":6,"c":73,"v":1},{"r":6,"c":74,"v":1},{"r":6,"c":75,"v":1},{"r":6,"c":76,"v":1},{"r":6,"c":77,"v":1},{"r":6,"c":78,"v":1},{"r":6,"c":79,"v":1},
{"r":6,"c":80,"v":1},{"r":6,"c":81,"v":1},{"r":6,"c":82,"v":1},{"r":6,"c":83,"v":1},{"r":6,"c":84,"v":1},{"r":6,"c":85,"v":1},{"r":6,"c":86,"v":1},{"r":6,"c":87,"v":1},{"r":6,"c":88,"v":1},{"r":6,"c":89,"v":1},
{"r":6,"c":90,"v":1},{"r":6,"c":91,"v":1},{"r":6,"c":92,"v":1},{"r":6,"c":93,"v":1},{"r":6,"c":94,"v":1},{"r":6,"c":95,"v":1},{"r":6,"c":96,"v":1},{"r":6,"c":97,"v":1},{"r":6,"c":98,"v":1},{"r":6,"c":99,"v":1},
{"r":6,"c":100,"v":1},{"r":6,"c":101,"v":1},{"r":6,"c":102,"v":1},{"r":6,"c":103,"v":1},{"r":6,"c":104,"v":1},{"r":6,"c":105,"v":1},{"r":6,"c":106,"v":1},{"r":6,"c":107,"v":1},{"r":6,"c":108,"v":1},{"r":6,"c":109,"v":1},
{"r":6,"c":110,"v":1},{"r":6,"c":111,"v":1},{"r":6,"c":112,"v":1},{"r":6,"c":113,"v":1},{"r":6,"c":114,"v":1},{"r":6,"c":115,"v":1},{"r":6,"c":116,"v":1},{"r":6,"c":117,"v":1},{"r":6,"c":118,"v":1},{"r":6,"c":119,"v":1},
{"r":6,"c":120,"v":1},{"r":6,"c":121,"v":1},{"r":6,"c":122,"v":1},{"r":6,"c":123,"v":1},{"r":6,"c":124,"v":1},{"r":6,"c":125,"v":1},{"r":6,"c":126,"v":1},{"r":6,"c":127,"v":1},{"r":6,"c":128,"v":1},{"r":6,"c":129,"v":1},
{"r":6,"c":130,"v":1},{"r":6,"c":131,"v":1},{"r":6,"c":132,"v":1},{"r":6,"c":133,"v":1},{"r":6,"c":134,"v":1},{"r":6,"c":135,"v":1},{"r":6,"c":136,"v":1},{"r":6,"c":137,"v":1},{"r":6,"c":138,"v":1},{"r":6,"c":139,"v":1},
{"r":6,"c":140,"v":1},{"r":6,"c":141,"v":1},{"r":6,"c":142,"v":1},{"r":6,"c":143,"v":1},{"r":6,"c":144,"v":1},{"r":6,"c":145,"v":1},{"r":6,"c":146,"v":1},{"r":6,"c":147,"v":1},{"r":6,"c":148,"v":1},{"r":6,"c":149,"v":1},
{"r":6,"c":150,"v":1},{"r":6,"c":151,"v":1},{"r":6,"c":152,"v":1},{"r":6,"c":153,"v":1},{"r":6,"c":154,"v":1},{"r":6,"c":155,"v":1},{"r":6,"c":156,"v":1},{"r":6,"c":157,"v":1},{"r":6,"c":158,"v":1},{"r":6,"c":159,"v":1},

{"r":7,"c":0,"v":1},{"r":7,"c":1,"v":1},{"r":7,"c":2,"v":1},{"r":7,"c":3,"v":1},{"r":7,"c":4,"v":1},{"r":7,"c":5,"v":1},{"r":7,"c":6,"v":1},{"r":7,"c":7,"v":1},{"r":7,"c":8,"v":1},{"r":7,"c":9,"v":0},
{"r":7,"c":10,"v":0},{"r":7,"c":11,"v":0},{"r":7,"c":12,"v":0},{"r":7,"c":13,"v":0},{"r":7,"c":14,"v":0},{"r":7,"c":15,"v":0},{"r":7,"c":16,"v":0},{"r":7,"c":17,"v":0},{"r":7,"c":18,"v":0},{"r":7,"c":19,"v":0},
{"r":7,"c":20,"v":0},{"r":7,"c":21,"v":0},{"r":7,"c":22,"v":0},{"r":7,"c":23,"v":0},{"r":7,"c":24,"v":0},{"r":7,"c":25,"v":0},{"r":7,"c":26,"v":0},{"r":7,"c":27,"v":0},{"r":7,"c":28,"v":0},{"r":7,"c":29,"v":0},
{"r":7,"c":30,"v":0},{"r":7,"c":31,"v":0},{"r":7,"c":32,"v":0},{"r":7,"c":33,"v":0},{"r":7,"c":34,"v":0},{"r":7,"c":35,"v":0},{"r":7,"c":36,"v":0},{"r":7,"c":37,"v":0},{"r":7,"c":38,"v":0},{"r":7,"c":39,"v":0},
{"r":7,"c":40,"v":0},{"r":7,"c":41,"v":0},{"r":7,"c":42,"v":0},{"r":7,"c":43,"v":0},{"r":7,"c":44,"v":0},{"r":7,"c":45,"v":0},{"r":7,"c":46,"v":0},{"r":7,"c":47,"v":0},{"r":7,"c":48,"v":0},{"r":7,"c":49,"v":0},
{"r":7,"c":50,"v":0},{"r":7,"c":51,"v":0},{"r":7,"c":52,"v":0},{"r":7,"c":53,"v":0},{"r":7,"c":54,"v":0},{"r":7,"c":55,"v":0},{"r":7,"c":56,"v":0},{"r":7,"c":57,"v":0},{"r":7,"c":58,"v":0},{"r":7,"c":59,"v":0},
{"r":7,"c":60,"v":0},{"r":7,"c":61,"v":0},{"r":7,"c":62,"v":0},{"r":7,"c":63,"v":0},{"r":7,"c":64,"v":0},{"r":7,"c":65,"v":0},{"r":7,"c":66,"v":0},{"r":7,"c":67,"v":0},{"r":7,"c":68,"v":0},{"r":7,"c":69,"v":0},
{"r":7,"c":70,"v":0},{"r":7,"c":71,"v":0},{"r":7,"c":72,"v":0},{"r":7,"c":73,"v":0},{"r":7,"c":74,"v":0},{"r":7,"c":75,"v":0},{"r":7,"c":76,"v":0},{"r":7,"c":77,"v":0},{"r":7,"c":78,"v":0},{"r":7,"c":79,"v":0},
{"r":7,"c":80,"v":0},{"r":7,"c":81,"v":0},{"r":7,"c":82,"v":0},{"r":7,"c":83,"v":0},{"r":7,"c":84,"v":0},{"r":7,"c":85,"v":0},{"r":7,"c":86,"v":0},{"r":7,"c":87,"v":0},{"r":7,"c":88,"v":0},{"r":7,"c":89,"v":0},
{"r":7,"c":90,"v":0},{"r":7,"c":91,"v":0},{"r":7,"c":92,"v":0},{"r":7,"c":93,"v":0},{"r":7,"c":94,"v":0},{"r":7,"c":95,"v":0},{"r":7,"c":96,"v":0},{"r":7,"c":97,"v":0},{"r":7,"c":98,"v":0},{"r":7,"c":99,"v":0},
{"r":7,"c":100,"v":0},{"r":7,"c":101,"v":0},{"r":7,"c":102,"v":0},{"r":7,"c":103,"v":0},{"r":7,"c":104,"v":0},{"r":7,"c":105,"v":0},{"r":7,"c":106,"v":0},{"r":7,"c":107,"v":0},{"r":7,"c":108,"v":0},{"r":7,"c":109,"v":0},
{"r":7,"c":110,"v":0},{"r":7,"c":111,"v":0},{"r":7,"c":112,"v":0},{"r":7,"c":113,"v":0},{"r":7,"c":114,"v":0},{"r":7,"c":115,"v":0},{"r":7,"c":116,"v":0},{"r":7,"c":117,"v":0},{"r":7,"c":118,"v":0},{"r":7,"c":119,"v":0},
{"r":7,"c":120,"v":0},{"r":7,"c":121,"v":0},{"r":7,"c":122,"v":0},{"r":7,"c":123,"v":0},{"r":7,"c":124,"v":0},{"r":7,"c":125,"v":0},{"r":7,"c":126,"v":0},{"r":7,"c":127,"v":0},{"r":7,"c":128,"v":0},{"r":7,"c":129,"v":0},
{"r":7,"c":130,"v":0},{"r":7,"c":131,"v":0},{"r":7,"c":132,"v":0},{"r":7,"c":133,"v":0},{"r":7,"c":134,"v":0},{"r":7,"c":135,"v":0},{"r":7,"c":136,"v":0},{"r":7,"c":137,"v":0},{"r":7,"c":138,"v":0},{"r":7,"c":139,"v":0},
{"r":7,"c":140,"v":0},{"r":7,"c":141,"v":0},{"r":7,"c":142,"v":0},{"r":7,"c":143,"v":0},{"r":7,"c":144,"v":0},{"r":7,"c":145,"v":0},{"r":7,"c":146,"v":0},{"r":7,"c":147,"v":0},{"r":7,"c":148,"v":0},{"r":7,"c":149,"v":0},
{"r":7,"c":150,"v":0},{"r":7,"c":151,"v":0},{"r":7,"c":152,"v":0},{"r":7,"c":153,"v":0},{"r":7,"c":154,"v":0},{"r":7,"c":155,"v":0},{"r":7,"c":156,"v":0},{"r":7,"c":157,"v":0},{"r":7,"c":158,"v":0},{"r":7,"c":159,"v":0}
]},
"layer": [
  {
    "mark": {"type": "rect", "strokeWidth": 1},
    "encoding": {
      "x": {"field": "c", "type": "ordinal", "scale": {"paddingInner": 0, "paddingOuter": 0}, "axis": {"orient": "bottom", "zindex": 1, "values": [0, 20, 40, 60, 80, 100, 120, 140], "labelAngle": 0, "labelPadding": 20}},
      "y": {"field": "r", "type": "ordinal", "scale": {"paddingInner": 0, "paddingOuter": 0}, "axis": {"orient": "left", "zindex": 1, "labelPadding": 27}},
      "color": {"field": "v", "type": "quantitative", "scale": {"domain": [0, 1], "range": ["#008066", "#ffff66"], "interpolate": "rgb"}, "legend": null},
      "stroke": {"field": "v", "type": "quantitative", "scale": {"domain": [0, 1], "range": ["#008066", "#ffff66"], "interpolate": "rgb"}, "legend": null}
    }
  },
  {
    "mark": {"type": "rect", "opacity": 0},
    "encoding": {
      "x": {"field": "c", "type": "ordinal", "axis": {"orient": "top", "zindex": 1, "values": [0, 20, 40, 60, 80, 100, 120, 140], "labels": false}},
      "y": {"field": "r", "type": "ordinal", "axis": {"orient": "right", "zindex": 1, "labels": false}}
    }
  }
]
}
